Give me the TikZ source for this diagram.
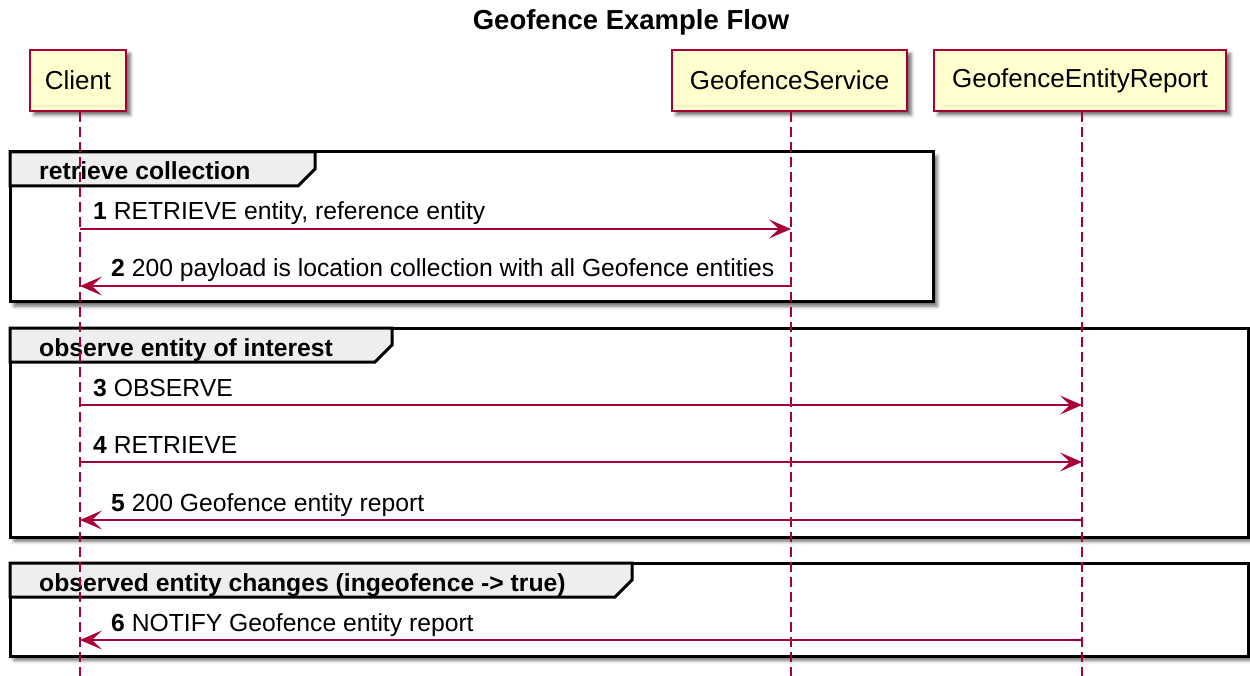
\documentclass[tikz,border=0pt]{standalone}
\usepackage{fontspec}
\setmainfont{Liberation Sans}
\usetikzlibrary{arrows.meta,shadows.blur}

\definecolor{crim}{HTML}{A80036}
\definecolor{partfill}{HTML}{FEFECE}
\definecolor{tabfill}{HTML}{EEEEEE}

\tikzset{
  softshadow/.style={blur shadow={shadow xshift=4pt, shadow yshift=-4pt, shadow blur radius=3.5pt, shadow opacity=60}},
  participant/.style={draw=crim, line width=2pt, fill=partfill, softshadow,
    minimum height=61pt, inner xsep=14pt, anchor=north west,
    font=\fontsize{26}{30}\selectfont},
  lifeline/.style={draw=crim, line width=1.6pt, dash pattern=on 10pt off 5pt},
  msg/.style={draw=crim, line width=1.6pt, -{Stealth[length=22pt,width=19pt,inset=10pt]}},
  msglabel/.style={anchor=base west, inner sep=0pt, font=\fontsize{24.7}{28}\selectfont},
  frame/.style={draw=black, line width=3pt, fill=white, softshadow},
  grouptab/.style={draw=black, line width=3pt, fill=tabfill, line join=miter},
  grouplabel/.style={anchor=base west, inner sep=0pt, font=\fontsize{24.7}{28}\selectfont\bfseries},
}

\begin{document}
\begin{tikzpicture}[x=1pt, y=-1pt]
\useasboundingbox (0,0) rectangle (1250,676);

% title
\node[font=\fontsize{27.5}{32}\selectfont\bfseries, anchor=base] (title) at (631,30) {Geofence Example Flow};

% group frames (drawn first so lifelines and messages lie on top)
\path[frame] (10,152) rectangle (933,302);
\path[grouptab] (10,152) -- (315,152) -- (315,169) -- (298,186) -- (10,186) -- cycle;
\node[grouplabel] (g1) at (39,180) {retrieve collection};

\path[frame] (10,328) rectangle (1248,537);
\path[grouptab] (10,328) -- (392,328) -- (392,345) -- (375,362) -- (10,362) -- cycle;
\node[grouplabel] (g2) at (39,356) {observe entity of interest};

\path[frame] (10,563) rectangle (1248,656);
\path[grouptab] (10,563) -- (632,563) -- (632,580) -- (615,597) -- (10,597) -- cycle;
\node[grouplabel] (g3) at (39,591) {observed entity changes (ingeofence -> true)};

% participants
\node[participant, minimum width=96pt] (client) at (29,49) {Client};
\node[participant, minimum width=235pt] (service) at (671,49) {GeofenceService};
\node[participant, minimum width=292pt] (report) at (933,49) {GeofenceEntityReport};

% lifelines
\coordinate (clientEnd) at (80,676);
\coordinate (serviceEnd) at (791,676);
\coordinate (reportEnd) at (1082,676);
\draw[lifeline] (client.south -| clientEnd) -- (clientEnd);
\draw[lifeline] (service.south -| serviceEnd) -- (serviceEnd);
\draw[lifeline] (report.south -| reportEnd) -- (reportEnd);

% message end points on the lifelines
\coordinate (c1) at (80,229);  \coordinate (s1) at (791,229);
\coordinate (c2) at (80,286);  \coordinate (s2) at (791,286);
\coordinate (c3) at (80,405);  \coordinate (r3) at (1082,405);
\coordinate (c4) at (80,462);  \coordinate (r4) at (1082,462);
\coordinate (c5) at (80,520);  \coordinate (r5) at (1082,520);
\coordinate (c6) at (80,640);  \coordinate (r6) at (1082,640);

% messages
\draw[msg] (c1) -- (s1);
\node[msglabel] (l1) at (93,220) {\textbf{1} RETRIEVE entity, reference entity};

\draw[msg] (s2) -- (c2);
\node[msglabel] (l2) at (111,277) {\textbf{2} 200 payload is location collection with all Geofence entities};

\draw[msg] (c3) -- (r3);
\node[msglabel] (l3) at (93,396) {\textbf{3} OBSERVE};

\draw[msg] (c4) -- (r4);
\node[msglabel] (l4) at (93,453) {\textbf{4} RETRIEVE};

\draw[msg] (r5) -- (c5);
\node[msglabel] (l5) at (111,511) {\textbf{5} 200 Geofence entity report};

\draw[msg] (r6) -- (c6);
\node[msglabel] (l6) at (111,631) {\textbf{6} NOTIFY Geofence entity report};
\end{tikzpicture}
\end{document}
